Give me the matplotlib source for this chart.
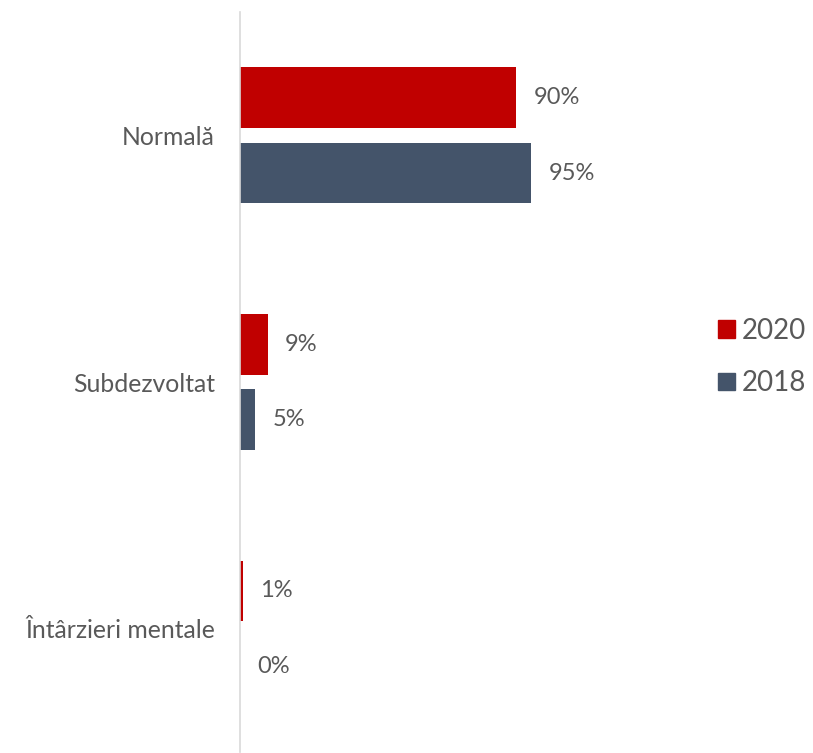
import matplotlib
matplotlib.use("Agg")
import matplotlib.pyplot as plt
from matplotlib.patches import Patch
import numpy as np

categories = ["Normală", "Subdezvoltat", "Întârzieri mentale"]
series_names = ["2020", "2018"]
values_2020 = [90, 9, 1]
values_2018 = [95, 5, 0]
colors = ["#C00000", "#44546A"]
text_color = "#595959"

plt.rcParams['font.family'] = ['Lato', 'DejaVu Sans']

W, H = 813, 753
fig = plt.figure(figsize=(W / 100, H / 100), dpi=100)
ax_left = 240 / W
ax_right = 700 / W
ax_top = 12 / H
ax_bottom = 1 / H
ax = fig.add_axes([ax_left, ax_bottom, ax_right - ax_left, 1 - ax_top - ax_bottom])

y = np.arange(len(categories))
bar_h = 0.246
off = 0.153
b1 = ax.barh(y - off, values_2020, height=bar_h, color=colors[0], label=series_names[0])
b2 = ax.barh(y + off, values_2018, height=bar_h, color=colors[1], label=series_names[1])

for bars, vals in ((b1, values_2020), (b2, values_2018)):
    for rect, v in zip(bars, vals):
        ax.annotate(f"{v}%", xy=(rect.get_width(), rect.get_y() + rect.get_height() / 2),
                    xytext=(12.5, 0), textcoords="offset points", ha="left", va="center",
                    fontsize=17, color=text_color)

ax.set_ylim(2.5, -0.5)
ax.set_xlim(0, 150)
ax.set_yticks(y)
ax.set_yticklabels(categories, fontsize=17.8, color=text_color)
ax.tick_params(axis="y", length=0, pad=18)
ax.set_xticks([])
for s in ["top", "right", "bottom"]:
    ax.spines[s].set_visible(False)
ax.spines["left"].set_color("#D9D9D9")
ax.spines["left"].set_linewidth(1.2)

handles = [Patch(color=colors[0], label=series_names[0]), Patch(color=colors[1], label=series_names[1])]
fig.legend(handles=handles, loc="center left", bbox_to_anchor=(718 / W, 1 - 357 / H),
           frameon=False, fontsize=20, labelcolor=text_color, borderaxespad=0, borderpad=0,
           handlelength=0.61, handleheight=0.61, handletextpad=0.25, labelspacing=0.95)

fig.savefig("out.png", dpi=100, facecolor="white")
